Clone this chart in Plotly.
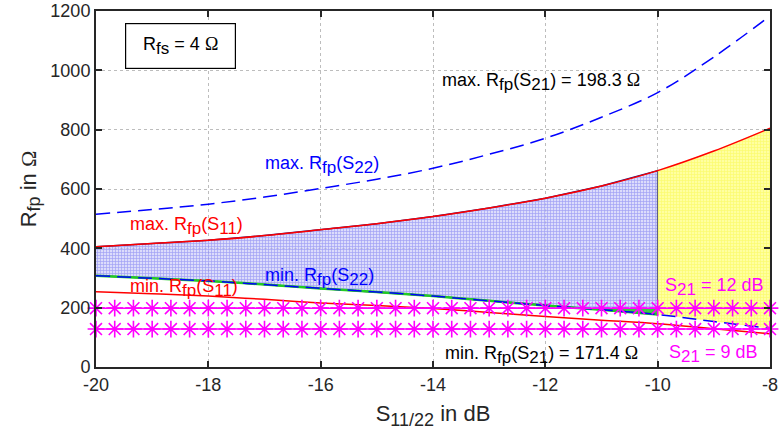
import numpy as np
import plotly.graph_objects as go

# Return loss of the ports (dB)
s_db = [-20, -19, -18, -17, -16, -15, -14, -13, -12, -11, -10, -9, -8]

# Parallel loss resistance bounds in Ohm
r_max_s11 = [405, 416, 427, 443, 463, 483, 507, 536, 569, 610, 662, 728, 805]
r_min_s11 = [254, 247, 239, 228, 216, 207, 197, 184, 170, 158, 146, 129, 112]
r_max_s22 = [515, 531, 549, 573, 602, 633, 670, 717, 771, 842, 925, 1045, 1183]
r_min_s22 = [308, 299, 290, 278, 265, 253, 239, 223, 207, 193, 177, 153, 130]

# Transmission-gain limits (constant in S11/22)
r_s21_12db = 198.3
r_s21_9db = 128.0
s_limit = -10  # right edge of the fully valid region

x_ticks = [-20, -18, -16, -14, -12, -10, -8]
y_ticks = [0, 200, 400, 600, 800, 1000, 1200]

xs = np.array(s_db, dtype=float)
up = np.array(r_max_s11, dtype=float)
lo22 = np.array(r_min_s22, dtype=float)

OHM = "<span style='font-family:Liberation Serif'>Ω</span>"


def sub(t, px=17):
    return f"<sub><span style='font-size:{px}px'>{t}</span></sub>"


fig = go.Figure()

# Valid region (S11/22 <= -10 dB), hatched blue
m = xs <= s_limit
px_ = np.concatenate([xs[m], xs[m][::-1]])
py_ = np.concatenate([up[m], lo22[m][::-1]])
fig.add_trace(go.Scatter(
    x=px_, y=py_, mode="lines", fill="toself",
    line=dict(color="#1a1a80", width=1.5),
    fillcolor="rgba(175,175,245,0.8)",
    fillpattern=dict(shape="+", size=3, solidity=0.4,
                     fgcolor="rgba(80,80,235,0.85)", bgcolor="rgba(205,205,250,0.7)"),
    hoverinfo="skip", showlegend=False))

# Region between -10 dB and -8 dB, hatched yellow
m2 = xs >= s_limit
px2 = np.concatenate([xs[m2], xs[m2][::-1]])
py2 = np.concatenate([up[m2], lo22[m2][::-1]])
fig.add_trace(go.Scatter(
    x=px2, y=py2, mode="lines", fill="toself",
    line=dict(width=0),
    fillcolor="rgba(255,255,120,0.9)",
    fillpattern=dict(shape="+", size=3, solidity=0.35,
                     fgcolor="rgba(245,245,40,0.95)", bgcolor="rgba(255,255,150,0.9)"),
    hoverinfo="skip", showlegend=False))

# Green wedge where the min. S22 bound drops below the 12 dB line
xf = np.linspace(s_db[0], s_limit, 400)
lf = np.interp(xf, xs, lo22)
sel = lf <= r_s21_12db
if sel.any():
    gx = np.concatenate([xf[sel], xf[sel][::-1]])
    gy = np.concatenate([np.full(sel.sum(), r_s21_12db), lf[sel][::-1]])
    fig.add_trace(go.Scatter(x=gx, y=gy, mode="lines", fill="toself",
                             line=dict(width=0), fillcolor="rgba(40,200,40,0.85)",
                             hoverinfo="skip", showlegend=False))

# Green border along the lower bound of the valid region
fig.add_trace(go.Scatter(x=xs[m], y=lo22[m], mode="lines",
                         line=dict(color="#22cc22", width=2.5, shape="spline"),
                         hoverinfo="skip", showlegend=False))

# S22 bounds (dashed blue)
for vals in (r_max_s22, r_min_s22):
    fig.add_trace(go.Scatter(x=s_db, y=vals, mode="lines",
                             line=dict(color="#0000ff", width=1.5, dash="14px,7px",
                                       shape="spline"),
                             showlegend=False))

# S11 bounds (solid red)
for vals in (r_max_s11, r_min_s11):
    fig.add_trace(go.Scatter(x=s_db, y=vals, mode="lines",
                             line=dict(color="#ff0000", width=1.5, shape="spline"),
                             showlegend=False))

# S21 limits with asterisk markers
xm = np.linspace(s_db[0], s_db[-1], 37)
for val in (r_s21_12db, r_s21_9db):
    fig.add_trace(go.Scatter(
        x=xm, y=np.full(xm.size, val), mode="lines+markers",
        line=dict(color="#ff00ff", width=1.5),
        marker=dict(symbol="asterisk-open", size=14,
                    line=dict(color="#ff00ff", width=1.6)),
        cliponaxis=False, showlegend=False))

font = "Liberation Sans, Arial, sans-serif"
ann = [
    (f"max. R{sub('fp')}(S{sub('21')}) = 198.3 {OHM}", -13.88, 960, "#000000"),
    (f"max. R{sub('fp')}(S{sub('22')})", -17.03, 680, "#0000ff"),
    (f"max. R{sub('fp')}(S{sub('11')})", -19.43, 474, "#ff0000"),
    (f"min. R{sub('fp')}(S{sub('11')})", -19.43, 266, "#ff0000"),
    (f"min. R{sub('fp')}(S{sub('22')})", -17.03, 302, "#0000ff"),
    (f"min. R{sub('fp')}(S{sub('21')}) = 171.4 {OHM}", -13.83, 42, "#000000"),
    (f"S{sub('21')} = 12 dB", -9.91, 268, "#ff00ff"),
    (f"S{sub('21')} = 9 dB", -9.83, 44, "#ff00ff"),
]
for text, x, y, c in ann:
    fig.add_annotation(x=x, y=y, xref="x", yref="y", text=text, showarrow=False,
                       xanchor="left", yanchor="middle",
                       font=dict(family=font, size=18, color=c))

# Parameter box
fig.add_annotation(x=-18.5, y=1081, xref="x", yref="y",
                   text=f"R{sub('fs', 17)} = 4 {OHM}", showarrow=False,
                   font=dict(family=font, size=18, color="#000000"),
                   width=109, height=44, borderpad=0, borderwidth=1.2,
                   bordercolor="#000000", bgcolor="#ffffff")

axis_common = dict(
    showline=True, linecolor="#262626", linewidth=2, mirror="allticks",
    ticks="inside", ticklen=6, tickwidth=1.5, tickcolor="#262626",
    showgrid=True, gridcolor="#bdbdbd", griddash="dot", gridwidth=1,
    zeroline=False, tickfont=dict(family=font, size=18, color="#262626"),
    layer="above traces", automargin=False,
)
fig.update_xaxes(range=[-20, -8], tickvals=x_ticks, ticktext=[str(v) for v in x_ticks],
                 title=dict(text=f"S{sub('11/22', 18)} in dB",
                            font=dict(family=font, size=22, color="#262626"), standoff=12),
                 **axis_common)
fig.update_yaxes(range=[0, 1200], tickvals=y_ticks, ticktext=[str(v) for v in y_ticks],
                 title=dict(text=f"R{sub('fp', 18)} in {OHM}",
                            font=dict(family=font, size=22, color="#262626"), standoff=8),
                 **axis_common)

fig.update_layout(width=779, height=446, margin=dict(l=96, r=9, t=11, b=79),
                  plot_bgcolor="#ffffff", paper_bgcolor="#ffffff")

fig.write_html("out.html")
